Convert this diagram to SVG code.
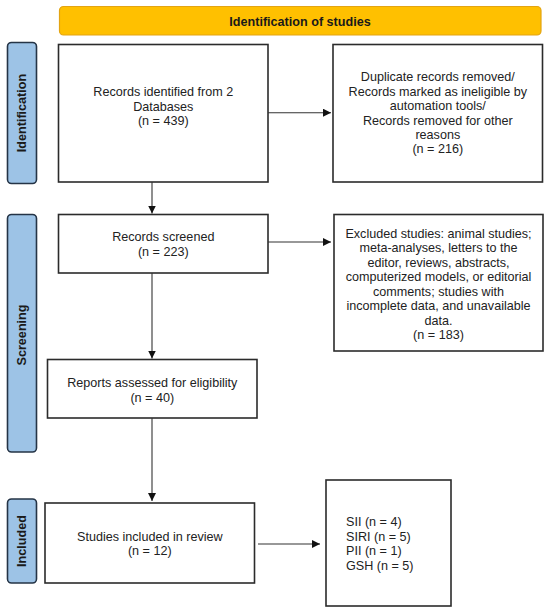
<svg xmlns="http://www.w3.org/2000/svg" width="550" height="612" viewBox="0 0 550 612">
<defs>
<style>
.box{fill:#fff;stroke:#2b2b2b;stroke-width:1.6}
.side{fill:#9dc3e6;stroke:#253446;stroke-width:1.6}
.banner{fill:#ffc000;stroke:#e3a412;stroke-width:1.2}
.t{font-family:"Liberation Sans",Arial,sans-serif;font-size:12.6px;fill:#222;text-anchor:middle}
.tl{font-family:"Liberation Sans",Arial,sans-serif;font-size:12.6px;fill:#222;text-anchor:start}
.b{font-family:"Liberation Sans",Arial,sans-serif;font-size:12.6px;font-weight:bold;fill:#1a1a1a;text-anchor:middle}
.c{stroke:#333;stroke-width:1.1;fill:none;marker-end:url(#ah)}
</style>
<marker id="ah" markerUnits="userSpaceOnUse" markerWidth="9" markerHeight="8" refX="8" refY="4" orient="auto">
<path d="M0,0 L8,4 L0,8 z" fill="#111"/>
</marker>
</defs>

<g id="banner">
<rect class="banner" x="59.5" y="6.5" width="481.5" height="28.5" rx="4"/>
<text class="b" x="300" y="25.5">Identification of studies</text>
</g>

<g id="side-identification">
<rect class="side" x="7.5" y="42.5" width="29" height="141" rx="4"/>
<text class="b" transform="translate(22,113) rotate(-90)" y="4.4">Identification</text>
</g>
<g id="side-screening">
<rect class="side" x="7.5" y="214.5" width="29" height="237.5" rx="4"/>
<text class="b" transform="translate(22,335) rotate(-90)" y="4.4">Screening</text>
</g>
<g id="side-included">
<rect class="side" x="7.5" y="499" width="29" height="84" rx="4"/>
<text class="b" transform="translate(22,541) rotate(-90)" y="4.4">Included</text>
</g>

<g id="records-identified">
<rect class="box" x="58.5" y="44.5" width="209.5" height="137.5"/>
<text class="t" x="163.3" y="96.4">Records identified from 2</text>
<text class="t" x="163.3" y="110.8">Databases</text>
<text class="t" x="163.3" y="125.2">(n = 439)</text>
</g>

<g id="duplicates-removed">
<rect class="box" x="333" y="44.5" width="209.5" height="137.5"/>
<text class="t" x="437.8" y="81.4">Duplicate records removed/</text>
<text class="t" x="437.8" y="95.8">Records marked as ineligible by</text>
<text class="t" x="437.8" y="110.2">automation tools/</text>
<text class="t" x="437.8" y="124.6">Records removed for other</text>
<text class="t" x="437.8" y="139">reasons</text>
<text class="t" x="437.8" y="153.4">(n = 216)</text>
</g>

<g id="records-screened">
<rect class="box" x="58.5" y="214.5" width="209.5" height="58.5"/>
<text class="t" x="163.3" y="241">Records screened</text>
<text class="t" x="163.3" y="256">(n = 223)</text>
</g>

<g id="excluded">
<rect class="box" x="334" y="214.5" width="209" height="136.5"/>
<text class="t" x="438.5" y="237.5">Excluded studies: animal studies;</text>
<text class="t" x="438.5" y="252">meta-analyses, letters to the</text>
<text class="t" x="438.5" y="266.5">editor, reviews, abstracts,</text>
<text class="t" x="438.5" y="281">computerized models, or editorial</text>
<text class="t" x="438.5" y="295.5">comments; studies with</text>
<text class="t" x="438.5" y="310">incomplete data, and unavailable</text>
<text class="t" x="438.5" y="324.5">data.</text>
<text class="t" x="438.5" y="339">(n = 183)</text>
</g>

<g id="reports-assessed">
<rect class="box" x="47.5" y="359.5" width="209.5" height="58.5"/>
<text class="t" x="152.3" y="387.4">Reports assessed for eligibility</text>
<text class="t" x="152.3" y="401.8">(n = 40)</text>
</g>

<g id="studies-included">
<rect class="box" x="45" y="503" width="209.5" height="80"/>
<text class="t" x="149.8" y="540.5">Studies included in review</text>
<text class="t" x="149.8" y="555">(n = 12)</text>
</g>

<g id="indices">
<rect class="box" x="326" y="480" width="125" height="126"/>
<text class="tl" x="346" y="526">SII (n = 4)</text>
<text class="tl" x="346" y="540.5">SIRI (n = 5)</text>
<text class="tl" x="346" y="555">PII (n = 1)</text>
<text class="tl" x="346" y="569.5">GSH (n = 5)</text>
</g>

<g id="connectors">
<line class="c" x1="268" y1="112.7" x2="331" y2="112.7"/>
<line class="c" x1="152" y1="182" x2="152" y2="213.5"/>
<line class="c" x1="268" y1="242" x2="331" y2="242"/>
<line class="c" x1="152" y1="273" x2="152" y2="358.5"/>
<line class="c" x1="152" y1="418" x2="152" y2="501"/>
<line class="c" x1="258" y1="544" x2="320" y2="544"/>
</g>
</svg>
